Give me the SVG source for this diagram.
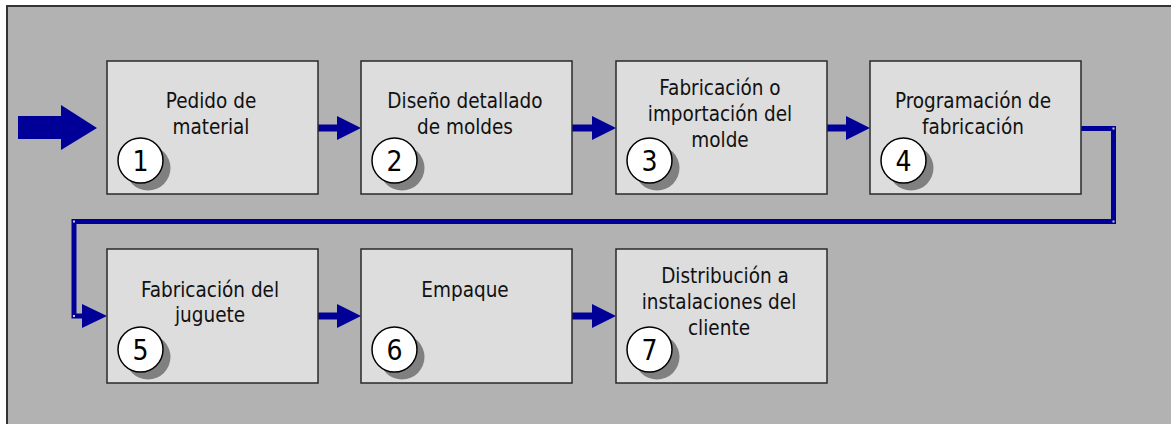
<svg xmlns="http://www.w3.org/2000/svg" width="1171" height="424" viewBox="0 0 1171 424">
<style>
.box{fill:#dddddd;stroke:#2a2a2a;stroke-width:1.5}
.lbl{font-family:"DejaVu Sans Condensed","DejaVu Sans",sans-serif;font-stretch:condensed;font-size:20.5px;fill:#111;text-anchor:middle}
.num{font-family:"DejaVu Sans Condensed","DejaVu Sans",sans-serif;font-stretch:condensed;font-size:28px;fill:#000;text-anchor:middle}
.shd{fill:#808080}
.cir{fill:#fff;stroke:#000;stroke-width:1.5}
.ln{fill:none;stroke:#000099;stroke-width:7}
.ln2{fill:none;stroke:#000099;stroke-width:5}
.hd{fill:#000099}
</style>
<rect x="0" y="0" width="1171" height="424" fill="#fff"/>
<rect x="7" y="6" width="1200" height="500" fill="#b2b2b2" stroke="#333" stroke-width="2"/>

<g id="connectors">
  <polygon class="hd" points="18,116 61,116 61,105 97,128 61,150 61,139 18,139"/>
  <line class="ln" x1="318" y1="128" x2="340" y2="128"/><polygon class="hd" points="337,116 361,128 337,140"/>
  <line class="ln" x1="572" y1="128" x2="595" y2="128"/><polygon class="hd" points="592,116 616,128 592,140"/>
  <line class="ln" x1="827" y1="128" x2="849" y2="128"/><polygon class="hd" points="846,116 870,128 846,140"/>
  <polyline class="ln2" points="1081,128.5 1113.5,128.5 1113.5,221.5 74,221.5 74,316 86,316"/>
  <polygon class="hd" points="82,304 107,316 82,328"/>
  <rect x="1112.5" y="127.5" width="2" height="2" fill="#ccc"/>
  <rect x="1112.5" y="220.5" width="2" height="2" fill="#ccc"/>
  <rect x="73" y="220.5" width="2" height="2" fill="#ccc"/>
  <rect x="73" y="315" width="2" height="2" fill="#ccc"/>
  <line class="ln" x1="318" y1="316" x2="340" y2="316"/><polygon class="hd" points="337,304 361,316 337,328"/>
  <line class="ln" x1="572" y1="316" x2="595" y2="316"/><polygon class="hd" points="592,304 616,316 592,328"/>
</g>

<g id="n1">
  <rect class="box" x="107" y="61" width="211" height="133"/>
  <text class="lbl" x="211" y="108">Pedido de</text>
  <text class="lbl" x="211" y="134">material</text>
  <circle class="shd" cx="148" cy="168" r="22.5"/>
  <circle class="cir" cx="140.5" cy="160.5" r="22.5"/>
  <text class="num" x="140.5" y="171">1</text>
</g>
<g id="n2">
  <rect class="box" x="361" y="61" width="211" height="133"/>
  <text class="lbl" x="465" y="108">Diseño detallado</text>
  <text class="lbl" x="465" y="134">de moldes</text>
  <circle class="shd" cx="402" cy="168" r="22.5"/>
  <circle class="cir" cx="394.5" cy="160.5" r="22.5"/>
  <text class="num" x="394.5" y="171">2</text>
</g>
<g id="n3">
  <rect class="box" x="616" y="61" width="211" height="133"/>
  <text class="lbl" x="720" y="95">Fabricación o</text>
  <text class="lbl" x="720" y="121">importación del</text>
  <text class="lbl" x="720" y="147">molde</text>
  <circle class="shd" cx="657" cy="168" r="22.5"/>
  <circle class="cir" cx="649.5" cy="160.5" r="22.5"/>
  <text class="num" x="649.5" y="171">3</text>
</g>
<g id="n4">
  <rect class="box" x="870" y="61" width="211" height="133"/>
  <text class="lbl" x="973" y="108">Programación de</text>
  <text class="lbl" x="973" y="134">fabricación</text>
  <circle class="shd" cx="911" cy="168" r="22.5"/>
  <circle class="cir" cx="903.5" cy="160.5" r="22.5"/>
  <text class="num" x="903.5" y="171">4</text>
</g>
<g id="n5">
  <rect class="box" x="107" y="249" width="211" height="134"/>
  <text class="lbl" x="210" y="297">Fabricación del</text>
  <text class="lbl" x="210" y="322">juguete</text>
  <circle class="shd" cx="148" cy="357" r="22.5"/>
  <circle class="cir" cx="140.5" cy="349.5" r="22.5"/>
  <text class="num" x="140.5" y="360">5</text>
</g>
<g id="n6">
  <rect class="box" x="361" y="249" width="211" height="134"/>
  <text class="lbl" x="465" y="297">Empaque</text>
  <circle class="shd" cx="402" cy="357" r="22.5"/>
  <circle class="cir" cx="394.5" cy="349.5" r="22.5"/>
  <text class="num" x="394.5" y="360">6</text>
</g>
<g id="n7">
  <rect class="box" x="616" y="249" width="211" height="134"/>
  <text class="lbl" x="725" y="283">Distribución a</text>
  <text class="lbl" x="719" y="309">instalaciones del</text>
  <text class="lbl" x="719" y="335">cliente</text>
  <circle class="shd" cx="657" cy="357" r="22.5"/>
  <circle class="cir" cx="649.5" cy="349.5" r="22.5"/>
  <text class="num" x="649.5" y="360">7</text>
</g>
</svg>
